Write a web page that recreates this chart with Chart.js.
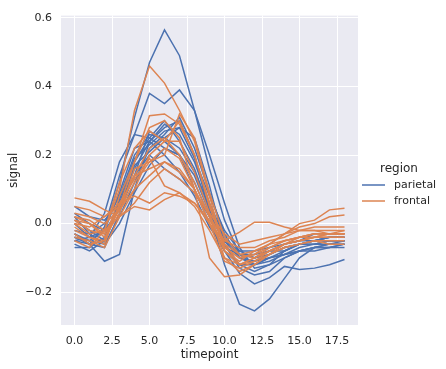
<!DOCTYPE html>
<html>
<head>
<meta charset="utf-8">
<script src="https://cdn.jsdelivr.net/npm/chart.js@4.4.0/dist/chart.umd.min.js"></script>
<style>
  html, body { margin: 0; padding: 0; background: #fff; }
  #wrap { width: 446px; height: 369px; }
</style>
</head>
<body>
<div id="wrap"><canvas id="myChart" width="446" height="369"></canvas></div>
<script>
// timepoints 0..18
const timepoints = [0,1,2,3,4,5,6,7,8,9,10,11,12,13,14,15,16,17,18];
const xTicks = [0, 2.5, 5, 7.5, 10, 12.5, 15, 17.5];
const yTicks = [-0.2, 0, 0.2, 0.4, 0.6];
const regions = ['parietal', 'frontal'];

// one line per subject, parietal region
const parietal = [
  [-0.04,-0.05,-0.02,0.12,0.31,0.47,0.565,0.49,0.33,0.16,0.01,-0.09,-0.12,-0.11,-0.09,-0.08,-0.07,-0.07,-0.06],
  [-0.03,-0.06,-0.01,0.14,0.26,0.38,0.35,0.39,0.33,0.20,0.06,-0.07,-0.13,-0.12,-0.10,-0.08,-0.07,-0.06,-0.06],
  [-0.05,-0.06,-0.11,-0.09,0.10,0.24,0.28,0.30,0.20,0.03,-0.12,-0.235,-0.255,-0.22,-0.16,-0.10,-0.07,-0.06,-0.05],
  [0.05,0.02,0.01,0.06,0.18,0.25,0.22,0.20,0.12,0.02,-0.08,-0.145,-0.176,-0.158,-0.125,-0.134,-0.13,-0.12,-0.105],
  [0.02,-0.03,0.0,0.08,0.20,0.26,0.25,0.22,0.15,0.05,-0.05,-0.10,-0.11,-0.09,-0.07,-0.06,-0.05,-0.04,-0.04],
  [-0.06,-0.08,-0.05,0.05,0.16,0.24,0.29,0.26,0.18,0.06,-0.04,-0.09,-0.10,-0.08,-0.06,-0.05,-0.05,-0.04,-0.04],
  [0.0,-0.04,0.03,0.18,0.26,0.25,0.30,0.24,0.16,0.04,-0.06,-0.12,-0.14,-0.12,-0.08,-0.06,-0.06,-0.05,-0.05],
  [-0.03,-0.05,-0.06,0.02,0.12,0.22,0.26,0.31,0.22,0.09,-0.03,-0.10,-0.12,-0.10,-0.09,-0.08,-0.08,-0.07,-0.07],
  [0.03,0.0,-0.02,0.04,0.14,0.20,0.16,0.13,0.09,0.02,-0.05,-0.08,-0.08,-0.07,-0.06,-0.05,-0.03,-0.03,-0.03],
  [-0.07,-0.07,-0.04,0.06,0.14,0.27,0.24,0.20,0.10,0.00,-0.08,-0.12,-0.12,-0.10,-0.08,-0.06,-0.05,-0.05,-0.05],
  [-0.02,-0.03,-0.06,0.00,0.09,0.17,0.22,0.20,0.14,0.03,-0.05,-0.10,-0.11,-0.10,-0.09,-0.07,-0.06,-0.06,-0.06],
  [-0.05,-0.04,-0.02,0.09,0.22,0.24,0.20,0.15,0.08,-0.01,-0.07,-0.09,-0.09,-0.08,-0.08,-0.06,-0.06,-0.05,-0.05],
  [0.01,-0.02,-0.05,0.07,0.19,0.23,0.27,0.28,0.19,0.08,-0.02,-0.08,-0.10,-0.09,-0.07,-0.06,-0.05,-0.04,-0.04],
  [-0.04,-0.06,-0.07,0.03,0.17,0.21,0.25,0.28,0.25,0.11,-0.06,-0.13,-0.15,-0.14,-0.10,-0.08,-0.07,-0.07,-0.06]
];

// one line per subject, frontal region
const frontal = [
  [0.0,-0.03,-0.02,0.10,0.33,0.46,0.41,0.33,0.24,0.08,-0.08,-0.12,-0.10,-0.08,-0.06,-0.05,-0.04,-0.04,-0.04],
  [0.02,0.0,-0.03,0.05,0.18,0.315,0.32,0.29,0.20,0.05,-0.07,-0.10,-0.09,-0.07,-0.05,-0.04,-0.04,-0.03,-0.03],
  [0.075,0.065,0.04,0.02,0.06,0.12,0.16,0.13,0.09,0.03,-0.03,-0.06,-0.05,-0.04,-0.03,-0.02,-0.01,-0.01,-0.01],
  [-0.02,-0.04,-0.05,0.05,0.14,0.22,0.25,0.20,0.12,0.02,-0.08,-0.11,-0.08,-0.06,-0.03,0.0,0.01,0.04,0.045],
  [0.01,-0.02,-0.03,0.04,0.12,0.18,0.22,0.19,0.10,0.0,-0.07,-0.10,-0.09,-0.06,-0.03,-0.01,0.0,0.02,0.025],
  [0.03,0.02,0.0,0.04,0.10,0.14,0.18,0.16,0.10,0.02,-0.05,-0.025,0.004,0.004,-0.01,-0.02,-0.02,-0.03,-0.03],
  [-0.04,-0.05,-0.07,0.02,0.10,0.20,0.24,0.24,0.15,0.03,-0.10,-0.14,-0.12,-0.09,-0.06,-0.05,-0.04,-0.04,-0.04],
  [-0.03,-0.06,-0.05,0.08,0.18,0.28,0.30,0.25,0.10,-0.10,-0.155,-0.15,-0.12,-0.09,-0.07,-0.06,-0.05,-0.05,-0.05],
  [0.0,-0.01,0.02,0.06,0.08,0.06,0.09,0.08,0.06,0.01,-0.06,-0.09,-0.08,-0.06,-0.05,-0.04,-0.03,-0.03,-0.02],
  [0.02,0.01,-0.02,0.02,0.05,0.04,0.07,0.09,0.06,0.0,-0.05,-0.07,-0.07,-0.05,-0.04,-0.02,-0.02,-0.02,-0.02],
  [-0.05,-0.07,-0.02,0.12,0.22,0.27,0.24,0.30,0.20,0.06,-0.06,-0.12,-0.11,-0.09,-0.07,-0.06,-0.05,-0.06,-0.06],
  [0.01,0.0,-0.04,0.03,0.16,0.18,0.20,0.32,0.25,0.09,-0.04,-0.09,-0.10,-0.08,-0.06,-0.05,-0.04,-0.03,-0.03],
  [-0.01,-0.04,-0.06,0.06,0.13,0.19,0.11,0.09,0.05,-0.02,-0.10,-0.12,-0.10,-0.07,-0.05,-0.04,-0.03,-0.03,-0.03],
  [0.05,0.04,0.02,0.05,0.14,0.16,0.18,0.15,0.10,0.0,-0.11,-0.13,-0.11,-0.08,-0.06,-0.04,-0.03,-0.03,-0.03]
];

const BLUE = '#4c72b0';
const ORANGE = '#dd8452';
const FONT = '"DejaVu Sans", sans-serif';

function toPoints(vals) {
  return vals.map((v, i) => ({ x: timepoints[i], y: v }));
}
function lineSet(vals, color) {
  return { data: toPoints(vals), borderColor: color, backgroundColor: color,
           borderWidth: 1.5, pointRadius: 0, tension: 0, fill: false };
}

// first dataset is drawn last, so frontal goes first to sit on top
const datasets = [];
frontal.forEach(s => datasets.push(lineSet(s, ORANGE)));
parietal.forEach(s => datasets.push(lineSet(s, BLUE)));

const fmt = v => v.toFixed(1).replace('-', '\u2212');

const decor = {
  id: 'decor',
  beforeDraw(chart) {
    const { ctx, chartArea: a } = chart;
    ctx.save();
    ctx.fillStyle = '#eaeaf2';
    ctx.fillRect(a.left, a.top, a.right - a.left, a.bottom - a.top);
    ctx.restore();
  },
  afterDraw(chart) {
    const { ctx, chartArea: a } = chart;
    ctx.save();
    ctx.fillStyle = '#262626';
    ctx.textAlign = 'center';
    ctx.textBaseline = 'middle';
    ctx.font = '12px ' + FONT;
    ctx.fillText('timepoint', (a.left + a.right) / 2, 355);
    ctx.save();
    ctx.translate(14, (a.top + a.bottom) / 2);
    ctx.rotate(-Math.PI / 2);
    ctx.fillText('signal', 0, 0);
    ctx.restore();
    // legend
    ctx.fillText('region', 399, 169);
    ctx.font = '11px ' + FONT;
    ctx.textAlign = 'left';
    const cols = [BLUE, ORANGE];
    regions.forEach((r, i) => {
      const y = 185 + i * 16;
      ctx.strokeStyle = cols[i];
      ctx.lineWidth = 1.5;
      ctx.beginPath();
      ctx.moveTo(362, y);
      ctx.lineTo(385, y);
      ctx.stroke();
      ctx.fillText(r, 394, y);
    });
    ctx.restore();
  }
};

new Chart(document.getElementById('myChart').getContext('2d'), {
  type: 'line',
  data: { datasets: datasets },
  options: {
    responsive: false,
    animation: false,
    layout: { padding: { left: 0, top: 8, right: 88, bottom: 0 } },
    plugins: { legend: { display: false }, tooltip: { enabled: false } },
    scales: {
      x: {
        type: 'linear', min: -0.9, max: 18.9,
        afterFit: s => { s.height = 44; },
        afterBuildTicks: s => { s.ticks = xTicks.map(v => ({ value: v })); },
        grid: { color: '#ffffff', lineWidth: 1, drawTicks: false },
        border: { display: false },
        ticks: { padding: 10, color: '#262626', font: { family: FONT, size: 11 },
                 maxRotation: 0, callback: v => fmt(v) }
      },
      y: {
        type: 'linear', min: -0.296, max: 0.607,
        afterFit: s => { s.width = 61; },
        afterBuildTicks: s => { s.ticks = yTicks.map(v => ({ value: v })); },
        grid: { color: '#ffffff', lineWidth: 1, drawTicks: false },
        border: { display: false },
        ticks: { padding: 9, color: '#262626', font: { family: FONT, size: 11 },
                 callback: v => fmt(v) }
      }
    }
  },
  plugins: [decor]
});
</script>
</body>
</html>
